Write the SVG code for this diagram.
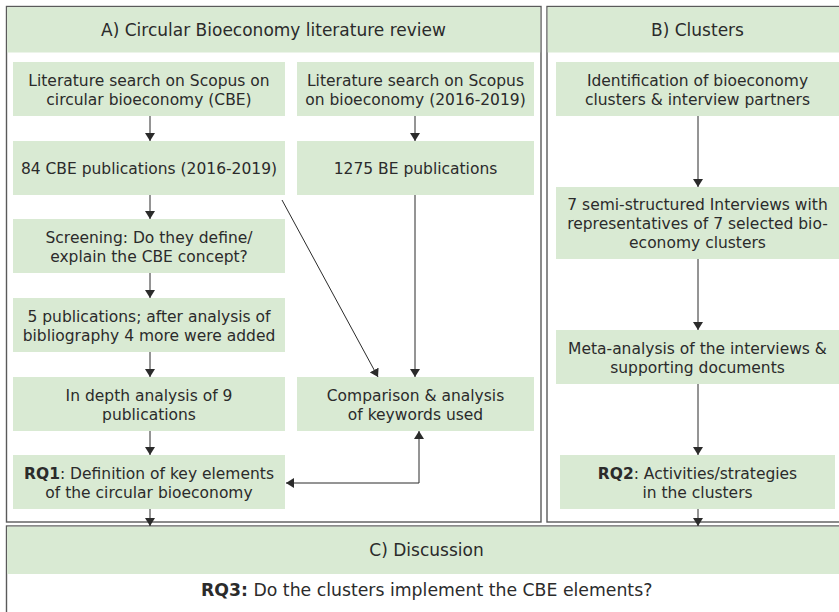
<svg xmlns="http://www.w3.org/2000/svg" width="839" height="612" viewBox="0 0 839 612">
  <defs>
    <style>
      .panel { fill: #ffffff; stroke: #5a5a5a; stroke-width: 1.4; }
      .head { fill: #d9ead3; }
      .box { fill: #d9ead3; }
      .t { font-family: "DejaVu Sans", "Open Sans", sans-serif; font-size: 15.5px; fill: #2b2b2b; text-anchor: middle; }
      .h { font-family: "DejaVu Sans", "Open Sans", sans-serif; font-size: 17px; fill: #2b2b2b; text-anchor: middle; }
      .q { font-size: 17.3px; }
      .b { font-weight: bold; }
      .c { fill: none; stroke: #2b2b2b; stroke-width: 1; }
    </style>
    <marker id="ah" viewBox="0 0 8 10" refX="8" refY="5" markerWidth="8" markerHeight="10" markerUnits="userSpaceOnUse" orient="auto-start-reverse">
      <path d="M0,0 L8,5 L0,10 z" fill="#2b2b2b"/>
    </marker>
  </defs>

  <rect width="839" height="612" fill="#ffffff"/>

  <!-- Panel A: literature review -->
  <g id="panelA">
    <rect class="panel" x="6.5" y="6.5" width="534.5" height="515.5"/>
    <rect class="head" x="7.2" y="7.2" width="533" height="45.3"/>
    <text class="h" x="273.5" y="35.5">A) Circular Bioeconomy literature review</text>
  </g>

  <!-- Panel B: clusters -->
  <g id="panelB">
    <rect class="panel" x="547" y="6.5" width="320" height="515.5"/>
    <rect class="head" x="547.7" y="7.2" width="320" height="45.3"/>
    <text class="h" x="697.5" y="35.5">B) Clusters</text>
  </g>

  <!-- Panel C: discussion -->
  <g id="panelC">
    <rect class="panel" x="6.5" y="526" width="860" height="100"/>
    <rect class="head" x="7.2" y="526.7" width="860" height="47.3"/>
    <text class="h" x="426.5" y="556">C) Discussion</text>
    <text class="h q" x="426.7" y="596"><tspan class="b">RQ3:</tspan> Do the clusters implement the CBE elements?</text>
  </g>

  <!-- Column A1 -->
  <g id="a1">
    <rect class="box" x="13" y="62" width="272" height="54"/>
    <text class="t" y="85.5"><tspan x="149">Literature search on Scopus on</tspan><tspan x="149" dy="19">circular bioeconomy (CBE)</tspan></text>
  </g>
  <g id="a2">
    <rect class="box" x="13" y="141" width="272" height="54"/>
    <text class="t" x="149" y="174">84 CBE publications (2016-2019)</text>
  </g>
  <g id="a3">
    <rect class="box" x="13" y="219" width="272" height="54"/>
    <text class="t" y="242.5"><tspan x="149">Screening: Do they define/</tspan><tspan x="149" dy="19">explain the CBE concept?</tspan></text>
  </g>
  <g id="a4">
    <rect class="box" x="13" y="298" width="272" height="54"/>
    <text class="t" y="321.5"><tspan x="149">5 publications; after analysis of</tspan><tspan x="149" dy="19">bibliography 4 more were added</tspan></text>
  </g>
  <g id="a5">
    <rect class="box" x="13" y="377" width="272" height="54"/>
    <text class="t" y="400.5"><tspan x="149">In depth analysis of 9</tspan><tspan x="149" dy="19">publications</tspan></text>
  </g>
  <g id="a6">
    <rect class="box" x="13" y="455" width="272" height="54"/>
    <text class="t" y="478.5"><tspan x="149"><tspan class="b">RQ1</tspan>: Definition of key elements</tspan><tspan x="149" dy="19">of the circular bioeconomy</tspan></text>
  </g>

  <!-- Column A2 -->
  <g id="b1">
    <rect class="box" x="297" y="62" width="237" height="54"/>
    <text class="t" y="85.5"><tspan x="415.5">Literature search on Scopus</tspan><tspan x="415.5" dy="19">on bioeconomy (2016-2019)</tspan></text>
  </g>
  <g id="b2">
    <rect class="box" x="297" y="141" width="237" height="54"/>
    <text class="t" x="415.5" y="174">1275 BE publications</text>
  </g>
  <g id="b3">
    <rect class="box" x="297" y="377" width="237" height="54"/>
    <text class="t" y="400.5"><tspan x="415.5">Comparison &amp; analysis</tspan><tspan x="415.5" dy="19">of keywords used</tspan></text>
  </g>

  <!-- Column B -->
  <g id="c1">
    <rect class="box" x="556" y="62" width="290" height="54"/>
    <text class="t" y="85.5"><tspan x="697.5">Identification of bioeconomy</tspan><tspan x="697.5" dy="19">clusters &amp; interview partners</tspan></text>
  </g>
  <g id="c2">
    <rect class="box" x="556" y="187" width="290" height="72"/>
    <text class="t" y="210"><tspan x="697.5">7 semi-structured Interviews with</tspan><tspan x="697.5" dy="19">representatives of 7 selected bio-</tspan><tspan x="697.5" dy="19">economy clusters</tspan></text>
  </g>
  <g id="c3">
    <rect class="box" x="556" y="330" width="290" height="54"/>
    <text class="t" y="353.5"><tspan x="697.5">Meta-analysis of the interviews &amp;</tspan><tspan x="697.5" dy="19">supporting documents</tspan></text>
  </g>
  <g id="c4">
    <rect class="box" x="560" y="455" width="275" height="54"/>
    <text class="t" y="478.5"><tspan x="697.5"><tspan class="b">RQ2</tspan>: Activities/strategies</tspan><tspan x="697.5" dy="19">in the clusters</tspan></text>
  </g>

  <!-- Connectors -->
  <g id="connectors" class="c">
    <line x1="150" y1="116" x2="150" y2="141" marker-end="url(#ah)"/>
    <line x1="150" y1="195" x2="150" y2="219" marker-end="url(#ah)"/>
    <line x1="150" y1="273" x2="150" y2="298" marker-end="url(#ah)"/>
    <line x1="150" y1="352" x2="150" y2="377" marker-end="url(#ah)"/>
    <line x1="150" y1="431" x2="150" y2="455" marker-end="url(#ah)"/>
    <line x1="150" y1="509" x2="150" y2="526" marker-end="url(#ah)"/>
    <line x1="415" y1="116" x2="415" y2="141" marker-end="url(#ah)"/>
    <line x1="415" y1="195" x2="415" y2="377" marker-end="url(#ah)"/>
    <line x1="282" y1="200" x2="378" y2="377" marker-end="url(#ah)"/>
    <path d="M286,483 H419 V431" marker-start="url(#ah)" marker-end="url(#ah)"/>
    <line x1="698" y1="116" x2="698" y2="187" marker-end="url(#ah)"/>
    <line x1="698" y1="259" x2="698" y2="330" marker-end="url(#ah)"/>
    <line x1="698" y1="384" x2="698" y2="455" marker-end="url(#ah)"/>
    <line x1="698" y1="509" x2="698" y2="526" marker-end="url(#ah)"/>
  </g>
</svg>
